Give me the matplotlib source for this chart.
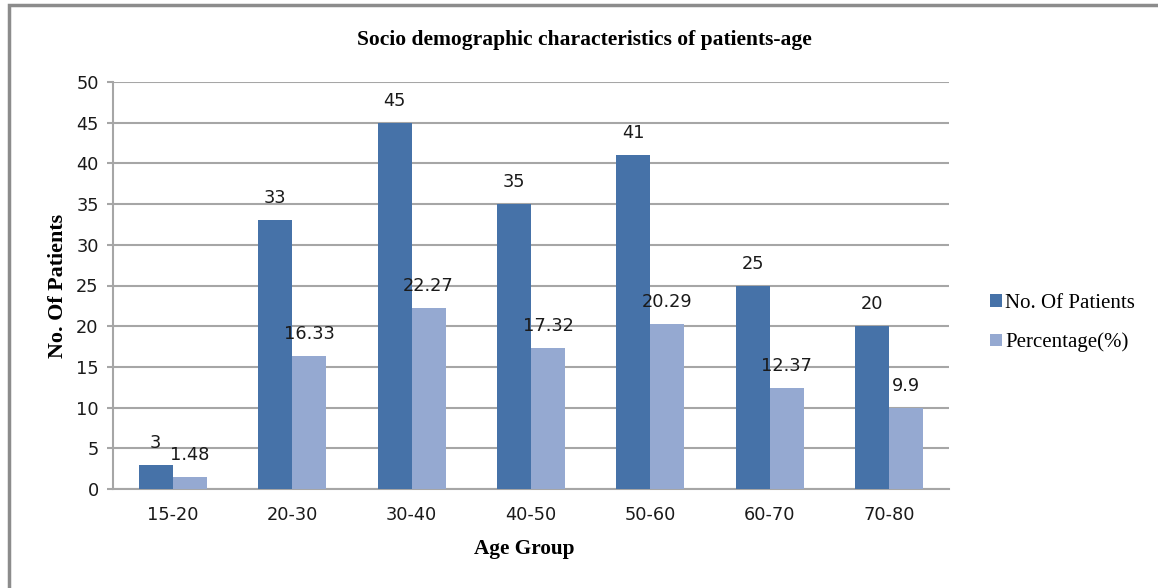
# coding: utf-8
"""
年龄分组患者人数柱状图
"""

import matplotlib.pyplot as plt
import matplotlib.patches as patches
import numpy as np

# 数据
age_groups = ['15-20', '20-30', '30-40', '40-50', '50-60', '60-70', '70-80']
patients = [3, 33, 45, 35, 41, 25, 20]
percentage = [1.48, 16.33, 22.27, 17.32, 20.29, 12.37, 9.9]
series_names = ['No. Of Patients', 'Percentage(%)']
yticks = [0, 5, 10, 15, 20, 25, 30, 35, 40, 45, 50]

dark_blue = '#4672A8'
light_blue = '#95A9D1'
grid_gray = '#A6A6A6'
serif = ['Liberation Serif', 'DejaVu Serif']

fig = plt.figure(figsize=(11.58, 5.88), dpi=100)
fig.patch.set_facecolor('white')

# 外框（右侧和下方超出画面）
frame = patches.Rectangle((9 / 1158, -0.05), 1.2, 1 - 4.5 / 588 + 0.05,
                          transform=fig.transFigure, linewidth=2.5,
                          edgecolor='#8C8C8C', facecolor='none', zorder=0)
fig.patches.append(frame)

ax = fig.add_axes([113 / 1158, 1 - 489 / 588, 836 / 1158, 407 / 588])

x = np.arange(len(age_groups))
w = 0.285
b1 = ax.bar(x - w / 2, patients, w, color=dark_blue, label=series_names[0], zorder=3)
b2 = ax.bar(x + w / 2, percentage, w, color=light_blue, label=series_names[1], zorder=3)

# 数值标签
for bars, vals in [(b1, patients), (b2, percentage)]:
    for rect, v in zip(bars, vals):
        ax.annotate(f'{v:g}', (rect.get_x() + rect.get_width() / 2, v),
                    xytext=(0, 12.2), textcoords='offset points',
                    ha='center', va='baseline', fontsize=12.8,
                    family='DejaVu Sans', color='#1a1a1a')

ax.set_xlim(-0.5, len(age_groups) - 0.5)
ax.set_ylim(0, 50)
ax.set_yticks(yticks)
ax.set_xticks(x)
ax.set_xticklabels(age_groups)
ax.yaxis.grid(True, color=grid_gray, linewidth=1.5, zorder=0)
ax.set_axisbelow(True)

for s in ['top', 'right']:
    ax.spines[s].set_visible(False)
for s in ['left', 'bottom']:
    ax.spines[s].set_color(grid_gray)
    ax.spines[s].set_linewidth(1.5)

ax.tick_params(axis='y', length=4.3, width=1.5, color=grid_gray, pad=6,
               labelsize=12.8, labelcolor='#1a1a1a')
ax.tick_params(axis='x', length=0, pad=12.5, labelsize=12.8, labelcolor='#1a1a1a')

ax.set_ylabel('No. Of Patients', fontsize=15.8, fontweight='bold', family=serif, labelpad=6)
fig.text(524 / 1158, 1 - 549 / 588, 'Age Group', ha='center', va='center',
         fontsize=15.3, fontweight='bold', family=serif)

fig.text(584 / 1158, 1 - 40 / 588, 'Socio demographic characteristics of patients-age',
         ha='center', va='center', fontsize=15.5, fontweight='bold', family=serif)

leg = ax.legend(loc='center left', bbox_to_anchor=(980 / 1158, 1 - 323 / 588),
                bbox_transform=fig.transFigure, frameon=False,
                prop={'family': serif, 'size': 15}, handlelength=0.55,
                handleheight=0.55, handletextpad=0.15, labelspacing=0.95,
                borderpad=0)

plt.savefig('out.png', dpi=100)
plt.close()
